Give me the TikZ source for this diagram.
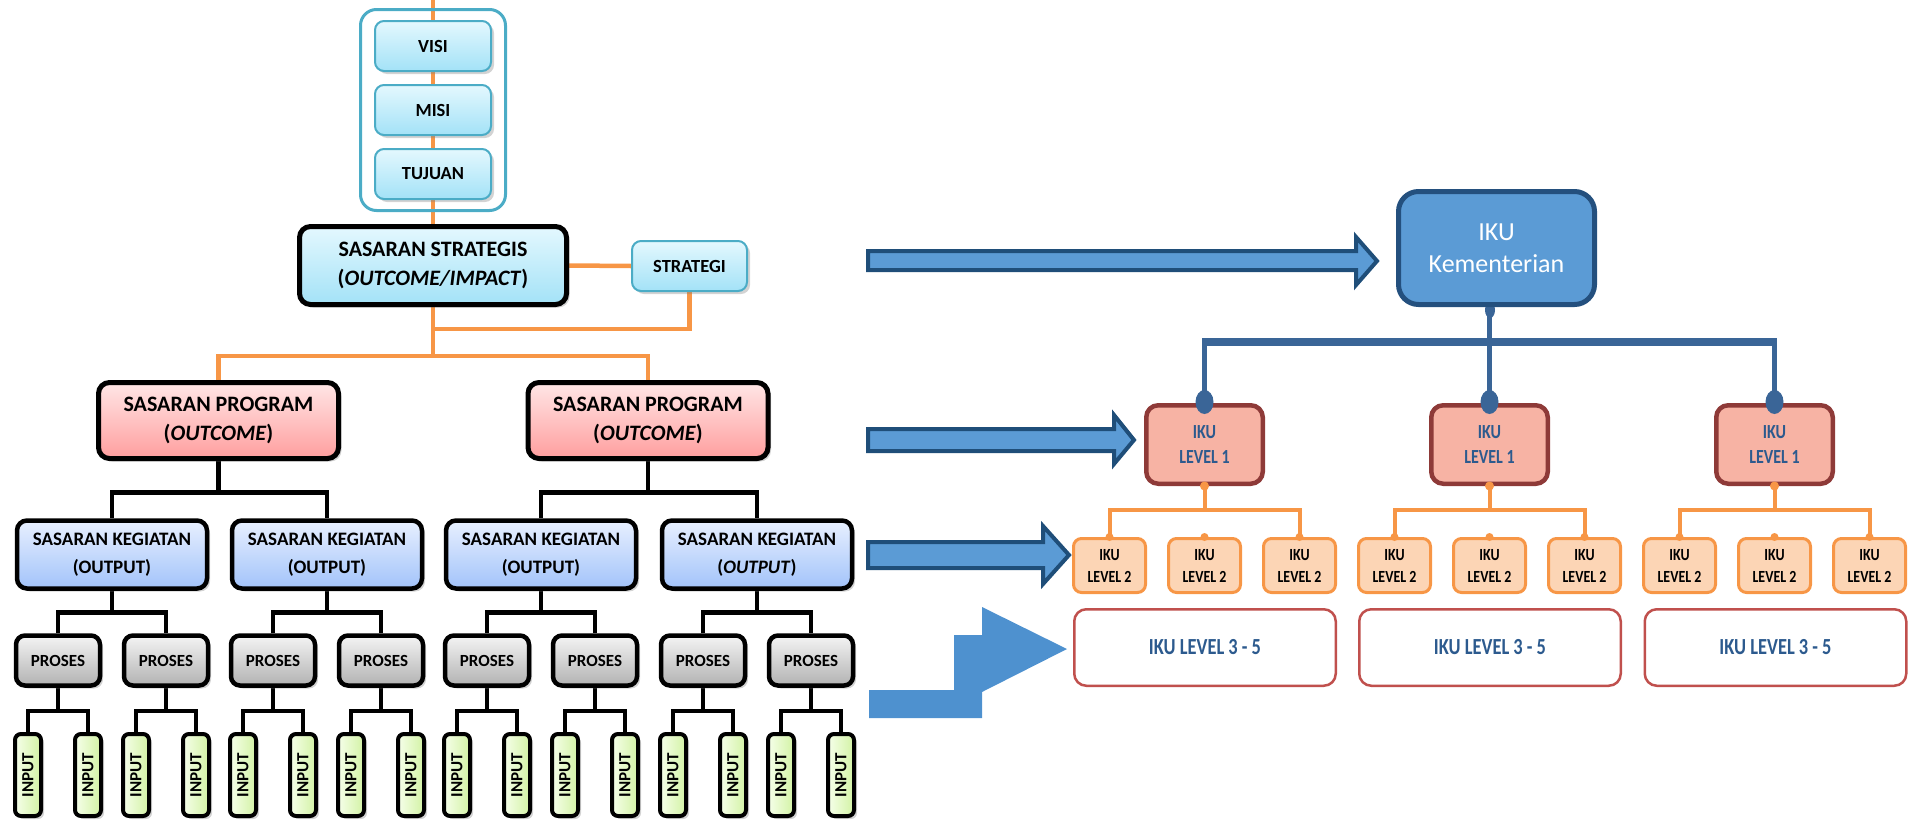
\documentclass[tikz,border=0pt]{standalone}
\usepackage{fontspec}
\setmainfont{Carlito}
\usepackage{graphicx}
\usetikzlibrary{shadows,backgrounds}
\definecolor{cyanB}{HTML}{4BACC6}
\definecolor{cyanT}{HTML}{E4F8FE}
\definecolor{cyanL}{HTML}{A3E2F7}
\definecolor{pinkT}{HTML}{FFE6E6}
\definecolor{pinkL}{HTML}{FF9E9E}
\definecolor{bluT}{HTML}{E8F0FF}
\definecolor{bluL}{HTML}{A2C3FA}
\definecolor{grT}{HTML}{F4F4F4}
\definecolor{grL}{HTML}{B2B2B2}
\definecolor{gnT}{HTML}{F6FFEA}
\definecolor{gnL}{HTML}{D2F2A4}
\definecolor{orc}{HTML}{F79646}
\definecolor{blc}{HTML}{3A6597}
\definecolor{kemF}{HTML}{5B9BD5}
\definecolor{kemB}{HTML}{24507E}
\definecolor{arrB}{HTML}{1F4E79}
\definecolor{stepF}{HTML}{4E91CF}
\definecolor{l1F}{HTML}{F7B3A4}
\definecolor{l1B}{HTML}{8E3A38}
\definecolor{l2F}{HTML}{FCD5B5}
\definecolor{l3B}{HTML}{C0504D}
\definecolor{txtB}{HTML}{2C5A8E}
\newcommand\sqz[2]{\scalebox{#1}[1]{#2}}
\begin{document}
\begin{tikzpicture}[x=1pt,y=-1pt,
  base/.style={align=center, inner sep=0pt},
  shad/.style={drop shadow={opacity=0.35, shadow xshift=3pt, shadow yshift=-3pt}},
  grpbox/.style={base, draw=cyanB, line width=3pt, rounded corners=16pt, minimum width=145pt, minimum height=201pt},
  cyanbox/.style={base, shad, draw=cyanB, line width=2pt, rounded corners=9pt, top color=cyanT, bottom color=cyanL, minimum width=116pt, minimum height=50pt, font=\bfseries\fontsize{18.5}{22}\selectfont},
  ssbox/.style={base, shad, draw=black, line width=5pt, rounded corners=11pt, top color=cyanT, bottom color=cyanL, minimum width=267pt, minimum height=78pt, font=\bfseries\fontsize{22}{29}\selectfont},
  spbox/.style={base, shad, draw=black, line width=5pt, rounded corners=11pt, top color=pinkT, bottom color=pinkL, minimum width=240pt, minimum height=76pt, font=\bfseries\fontsize{22}{29}\selectfont},
  kbox/.style={base, shad, draw=black, line width=4.5pt, rounded corners=10pt, top color=bluT, bottom color=bluL, minimum width=190pt, minimum height=68pt, font=\bfseries\fontsize{19}{28}\selectfont},
  pbox/.style={base, shad, draw=black, line width=4.5pt, rounded corners=9pt, top color=grT, bottom color=grL, minimum width=84pt, minimum height=50pt, font=\bfseries\fontsize{17}{20}\selectfont},
  inbox/.style={base, shad, draw=black, line width=4pt, rounded corners=6pt, left color=gnT, right color=gnL, minimum width=26pt, minimum height=82pt, font=\bfseries\fontsize{17}{20}\selectfont},
  org/.style={draw=orc, line width=4.5pt},
  blk/.style={draw=black, line width=4.7pt},
  kem/.style={base, draw=kemB, fill=kemF, line width=5pt, rounded corners=20pt, minimum width=196pt, minimum height=113pt, text=white, font=\fontsize{26}{32}\selectfont},
  lonebox/.style={base, draw=l1B, fill=l1F, line width=4.5pt, rounded corners=12pt, minimum width=116.5pt, minimum height=78.5pt, text=txtB, font=\bfseries\fontsize{20}{25}\selectfont},
  ltwobox/.style={base, draw=orc, fill=l2F, line width=3pt, rounded corners=8pt, minimum width=72pt, minimum height=54pt, font=\bfseries\fontsize{17}{22}\selectfont},
  lthreebox/.style={base, draw=l3B, fill=white, line width=2.5pt, rounded corners=12pt, minimum width=261.5pt, minimum height=76.5pt, text=txtB, font=\bfseries\fontsize{23}{28}\selectfont},
  bl/.style={draw=blc, line width=5pt},
  org2/.style={draw=orc, line width=4pt},
  barrow/.style={fill=kemF, draw=arrB, line width=4pt, line join=miter}
]
\useasboundingbox (0,0) rectangle (1920,822);

% ---------- left tree ----------
\node[grpbox] (grp) at (433,110) {};
\node[cyanbox] (visi) at (433,46) {VISI};
\node[cyanbox] (misi) at (433,110) {MISI};
\node[cyanbox] (tuj) at (433,174) {TUJUAN};
\node[ssbox] (ss) at (433,265.5) {SASARAN STRATEGIS\\(\textit{OUTCOME/IMPACT})};
\node[cyanbox, minimum width=115pt] (strat) at (689.5,266) {STRATEGI};
\coordinate (top) at (433,0);
\coordinate (jn) at (433,329);

\node[spbox] (sp1) at (218.5,420.5) {SASARAN PROGRAM\\(\textit{OUTCOME})};
\node[spbox] (sp2) at (648,420.5) {SASARAN PROGRAM\\(\textit{OUTCOME})};

\node[kbox] (k1) at (112,554.5) {SASARAN KEGIATAN\\(OUTPUT)};
\node[kbox] (k2) at (327,554.5) {SASARAN KEGIATAN\\(OUTPUT)};
\node[kbox] (k3) at (541,554.5) {SASARAN KEGIATAN\\(OUTPUT)};
\node[kbox] (k4) at (757,554.5) {SASARAN KEGIATAN\\(\textit{OUTPUT})};

\foreach \i/\x in {1/58,2/166,3/273,4/381,5/487,6/595,7/703,8/811}{
  \node[pbox] (p\i) at (\x,660.5) {PROSES};
  \node[inbox] (in\i a) at ({\x-30},775) {\rotatebox{90}{INPUT}};
  \node[inbox] (in\i b) at ({\x+30},775) {\rotatebox{90}{INPUT}};
}

\begin{scope}[on background layer]
  \draw[org] (top) -- (ss.north);
  \draw[org] (ss.east) -- (strat.west);
  \draw[org] (strat.south) |- (jn);
  \draw[org] (ss.south) -- ++(0,49);
  \draw[org] (sp1.north) -- ++(0,-24) -| (sp2.north);
  \draw[blk] (sp1.south) -- ++(0,32);
  \draw[blk] (k1.north) -- ++(0,-26) -| (k2.north);
  \draw[blk] (sp2.south) -- ++(0,32);
  \draw[blk] (k3.north) -- ++(0,-26) -| (k4.north);
  \draw[blk] (k1.south) -- ++(0,21);
  \draw[blk] (p1.north) -- ++(0,-21) -| (p2.north);
  \draw[blk] (k2.south) -- ++(0,21);
  \draw[blk] (p3.north) -- ++(0,-21) -| (p4.north);
  \draw[blk] (k3.south) -- ++(0,21);
  \draw[blk] (p5.north) -- ++(0,-21) -| (p6.north);
  \draw[blk] (k4.south) -- ++(0,21);
  \draw[blk] (p7.north) -- ++(0,-21) -| (p8.north);
  \foreach \i in {1,...,8}{
    \draw[blk] (p\i.south) -- ++(0,23);
    \draw[blk] (in\i a.north) -- ++(0,-21) -| (in\i b.north);
  }
\end{scope}

% ---------- block arrows ----------
\path[barrow] (868,251) -- (1356,251) -- (1356,237) -- (1377,261) -- (1356,285) -- (1356,270) -- (868,270) -- cycle;
\path[barrow] (868,429) -- (1114,429) -- (1114,415) -- (1134,440) -- (1114,464) -- (1114,451) -- (868,451) -- cycle;
\path[barrow] (868,542) -- (1043,542) -- (1043,526) -- (1069,555) -- (1043,584) -- (1043,568) -- (868,568) -- cycle;
\fill[stepF] (869,718) -- (869,690) -- (954,690) -- (954,635) -- (982,635) -- (982,607) -- (1067,649) -- (982,692) -- (982,718) -- cycle;

% ---------- right tree ----------
\fill[blc] (1490,310) ellipse [x radius=5pt, y radius=8pt];
\node[kem] (kem) at (1496.5,248) {IKU\\Kementerian};

\node[lonebox] (l1a) at (1204.5,444.5) {\sqz{0.8}{IKU}\\\sqz{0.8}{LEVEL 1}};
\node[lonebox] (l1b) at (1489.5,444.5) {\sqz{0.8}{IKU}\\\sqz{0.8}{LEVEL 1}};
\node[lonebox] (l1c) at (1774.5,444.5) {\sqz{0.8}{IKU}\\\sqz{0.8}{LEVEL 1}};

\foreach \g/\c in {a/1204.5,b/1489.5,c/1774.5}{
  \node[ltwobox] (l2\g1) at ({\c-95},565.5) {\sqz{0.82}{IKU}\\\sqz{0.82}{LEVEL 2}};
  \node[ltwobox] (l2\g2) at (\c,565.5) {\sqz{0.82}{IKU}\\\sqz{0.82}{LEVEL 2}};
  \node[ltwobox] (l2\g3) at ({\c+95},565.5) {\sqz{0.82}{IKU}\\\sqz{0.82}{LEVEL 2}};
}
\node[lthreebox] (l3a) at (1205,647.5) {\sqz{0.8}{IKU LEVEL 3 - 5}};
\node[lthreebox] (l3b) at (1490,647.5) {\sqz{0.8}{IKU LEVEL 3 - 5}};
\node[lthreebox] (l3c) at (1775.5,647.5) {\sqz{0.8}{IKU LEVEL 3 - 5}};

\begin{scope}[on background layer]
  \draw[bl] (l1a.north) -- ++(0,-61) coordinate (busL);
  \draw[bl] (l1c.north) -- ++(0,-61) coordinate (busR);
  \draw[bl] (l1b.north) -- (kem.south -| l1b.north);
  \draw[blc, line width=8pt] ([xshift=-2.5pt]busL) -- ([xshift=2.5pt]busR);
\end{scope}
\foreach \n in {l1a,l1b,l1c}{
  \fill[blc] ([yshift=1pt]\n.north) ellipse [x radius=9pt, y radius=12pt];
}
\foreach \g in {a,b,c}{
  \draw[org2] (l1\g.south) -- ++(0,24);
  \draw[org2] (l2\g1.north) -- ++(0,-27) -| (l2\g3.north);
  \fill[orc] (l1\g.south) circle (4.5pt);
  \foreach \k in {1,2,3}{
    \fill[orc] (l2\g\k.north) circle (4pt);
  }
}
\end{tikzpicture}
\end{document}
